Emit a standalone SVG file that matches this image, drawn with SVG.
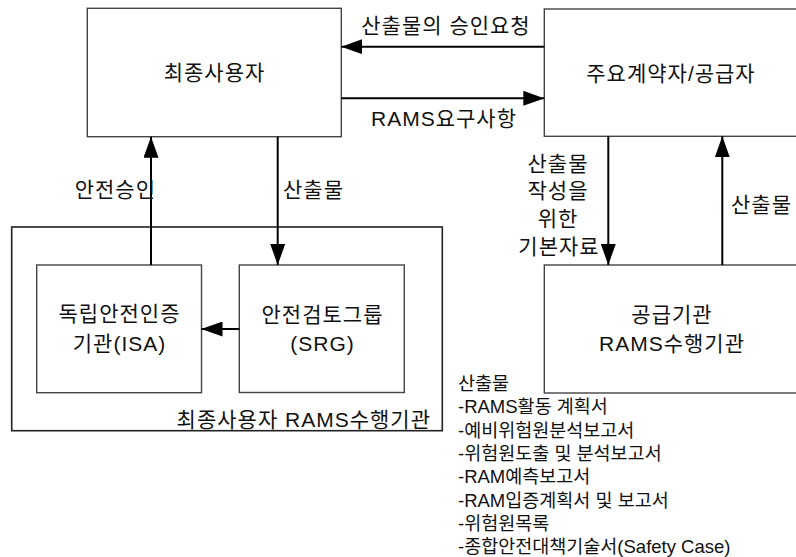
<svg xmlns="http://www.w3.org/2000/svg" width="796" height="557" viewBox="0 0 796 557">
<style>
.box{fill:#fff;stroke:#444;stroke-width:1.4}
.outer{fill:none;stroke:#222;stroke-width:1.6}
.t{font-family:"Liberation Sans","Noto Sans CJK KR",sans-serif;font-size:21px;letter-spacing:1px;fill:#111}
.l{font-family:"Liberation Sans","Noto Sans CJK KR",sans-serif;font-size:18.5px;fill:#111}
.c{text-anchor:middle}
.e{text-anchor:end}
.conn{stroke:#000;stroke-width:2;fill:none;marker-end:url(#ah)}
</style>
<defs>
<marker id="ah" markerUnits="userSpaceOnUse" markerWidth="21" markerHeight="15" refX="21" refY="7.5" orient="auto">
<path d="M0,0 L21,7.5 L0,15 z" fill="#000"/>
</marker>
</defs>
<rect width="796" height="557" fill="#fff"/>
<g id="outer-group">
<rect class="outer" x="11.7" y="227" width="430.6" height="203.7"/>
<text class="t e" x="431" y="426.5">최종사용자 RAMS수행기관</text>
</g>
<g id="end-user">
<rect class="box" x="87.3" y="8.3" width="254" height="128.4"/>
<text class="t c" x="214.5" y="80">최종사용자</text>
</g>
<g id="contractor">
<rect class="box" x="544.3" y="9" width="254" height="127.3"/>
<text class="t c" x="671" y="81">주요계약자/공급자</text>
</g>
<g id="isa">
<rect class="box" x="36.7" y="265" width="164.8" height="127.7"/>
<text class="t c" x="119.5" y="321">독립안전인증</text>
<text class="t c" x="119.5" y="351">기관(ISA)</text>
</g>
<g id="srg">
<rect class="box" x="239.3" y="265" width="165" height="127.5"/>
<text class="t c" x="322.5" y="322">안전검토그룹</text>
<text class="t c" x="322.5" y="351">(SRG)</text>
</g>
<g id="supplier">
<rect class="box" x="544.3" y="265" width="254" height="128"/>
<text class="t c" x="672" y="322">공급기관</text>
<text class="t c" x="672" y="351">RAMS수행기관</text>
</g>
<g id="connectors">
<line class="conn" x1="544.3" y1="46.7" x2="341.3" y2="46.7"/>
<line class="conn" x1="341.3" y1="98.3" x2="544.3" y2="98.3"/>
<line class="conn" x1="151" y1="265" x2="151" y2="136.7"/>
<line class="conn" x1="277.7" y1="136.7" x2="277.7" y2="265"/>
<line class="conn" x1="239.3" y1="329" x2="201.5" y2="329"/>
<line class="conn" x1="608.3" y1="136.3" x2="608.3" y2="265"/>
<line class="conn" x1="722.3" y1="265" x2="722.3" y2="136.3"/>
</g>
<g id="labels">
<text class="t c" x="446" y="32.5">산출물의 승인요청</text>
<text class="t c" x="444" y="125.5">RAMS요구사항</text>
<text class="t e" x="156" y="196.5">안전승인</text>
<text class="t" x="283" y="196.5">산출물</text>
<text class="t" x="731" y="211.5">산출물</text>
<text class="t c" x="558" y="170.5">산출물</text>
<text class="t c" x="558" y="198">작성을</text>
<text class="t c" x="558" y="225.5">위한</text>
<text class="t c" x="559" y="253.5">기본자료</text>
</g>
<g id="deliverables">
<text class="l" x="458" y="390">산출물</text>
<text class="l" x="458" y="413.3">-RAMS활동 계획서</text>
<text class="l" x="458" y="436.6">-예비위험원분석보고서</text>
<text class="l" x="458" y="459.9">-위험원도출 및 분석보고서</text>
<text class="l" x="458" y="483.2">-RAM예측보고서</text>
<text class="l" x="458" y="506.5">-RAM입증계획서 및 보고서</text>
<text class="l" x="458" y="529.8">-위험원목록</text>
<text class="l" x="458" y="553.1">-종합안전대책기술서(Safety Case)</text>
</g>
</svg>
